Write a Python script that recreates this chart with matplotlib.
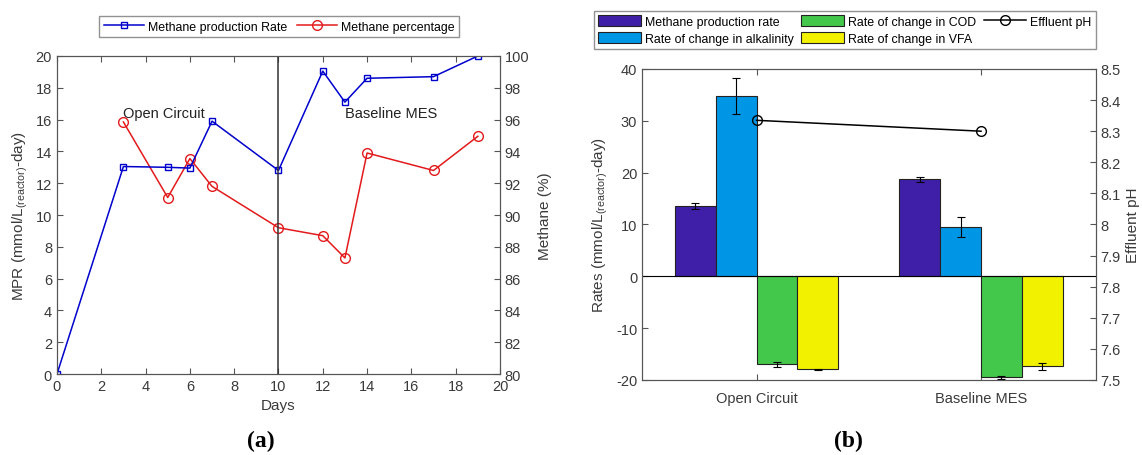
import matplotlib
matplotlib.use('Agg')
import matplotlib.pyplot as plt
import numpy as np

# (a) methane production rate and methane percentage vs days
mpr_days = [0, 3, 5, 6, 7, 10, 12, 13, 14, 17, 19]
mpr_vals = [0, 13.05, 13.0, 12.95, 15.9, 12.8, 19.05, 17.1, 18.6, 18.7, 20.0]
pct_days = [3, 5, 6, 7, 10, 12, 13, 14, 17, 19]
pct_vals = [95.85, 91.1, 93.55, 91.8, 89.2, 88.7, 87.3, 93.9, 92.8, 94.95]

# (b) rates per condition
conditions = ['Open Circuit', 'Baseline MES']
series_names = ['Methane production rate', 'Rate of change in alkalinity',
                'Rate of change in COD', 'Rate of change in VFA']
rates = [[13.55, 18.7],
         [34.85, 9.55],
         [-17.0, -19.5],
         [-17.95, -17.35]]
rate_err = [[0.65, 0.45],
            [3.5, 1.95],
            [0.4, 0.35],
            [0.1, 0.65]]
ph_vals = [8.335, 8.30]

bar_colors = ['#3F1FA8', '#0096E6', '#44C84B', '#F2F200']
axis_col = '#3a3a3a'

plt.rcParams['font.family'] = ['Liberation Sans', 'DejaVu Sans']
plt.rcParams['mathtext.fontset'] = 'custom'
plt.rcParams['mathtext.rm'] = 'Liberation Sans'
plt.rcParams['mathtext.it'] = 'Liberation Sans:italic'
plt.rcParams['axes.unicode_minus'] = False
plt.rcParams['font.size'] = 10

fig = plt.figure(figsize=(11.42, 4.56), dpi=100)


def style_axes(ax):
    for s in ax.spines.values():
        s.set_color('#555555')
        s.set_linewidth(0.8)
    ax.tick_params(direction='in', colors='#555555', labelcolor=axis_col, length=4,
                   labelsize=10.5)


# ---------- panel (a) ----------
ax1 = fig.add_axes([0.0499, 0.1776, 0.3879, 0.6974])
l1, = ax1.plot(mpr_days, mpr_vals, color='#0000CC', marker='s', markersize=5,
               markerfacecolor='none', lw=1.1, label='Methane production Rate')
ax1.axvline(10, color='#333333', lw=1.1)
ax1.set_xlim(0, 20)
ax1.set_ylim(0, 20)
ax1.set_xticks(np.arange(0, 21, 2))
ax1.set_yticks(np.arange(0, 21, 2))
ax1.set_xlabel('Days', color=axis_col, fontsize=11)
ax1.set_ylabel('MPR (mmol/L$_{(\\mathrm{reactor})}$-day)', color=axis_col,
               fontsize=11, labelpad=4)
ax1.text(3, 16.4, 'Open Circuit', va='center', fontsize=10.5, color='#222222')
ax1.text(13, 16.4, 'Baseline MES', va='center', fontsize=10.5, color='#222222')
style_axes(ax1)
ax1.tick_params(top=True, right=False)

ax1r = ax1.twinx()
l2, = ax1r.plot(pct_days, pct_vals, color='#E31A1C', marker='o', markersize=7,
                markerfacecolor='none', lw=1.1, label='Methane percentage')
ax1r.set_ylim(80, 100)
ax1r.set_yticks(np.arange(80, 101, 2))
ax1r.set_ylabel('Methane (%)', color=axis_col, fontsize=11, labelpad=6)
style_axes(ax1r)
ax1r.set_zorder(ax1.get_zorder() - 1)
ax1.patch.set_visible(False)

fig.legend(handles=[l1, l2], loc='center', bbox_to_anchor=(0.2445, 0.939), ncol=2,
           fontsize=8.9, frameon=True, fancybox=False, edgecolor='#777777',
           borderpad=0.35, handlelength=3.3, columnspacing=0.75, handletextpad=0.3)

# ---------- panel (b) ----------
ax2 = fig.add_axes([0.5622, 0.1645, 0.3971, 0.682])
x = np.arange(1, len(conditions) + 1)
w = 0.182
handles = []
for i, (vals, errs) in enumerate(zip(rates, rate_err)):
    off = (i - 1.5) * w
    b = ax2.bar(x + off, vals, width=w, color=bar_colors[i], edgecolor='#222222',
                linewidth=0.8, label=series_names[i], zorder=2)
    ax2.errorbar(x + off, vals, yerr=errs, fmt='none', ecolor='black',
                 elinewidth=0.8, capsize=3, capthick=0.8, zorder=3)
    handles.append(b)
ax2.axhline(0, color='black', lw=0.8, zorder=2.5)
ax2.set_xlim(0.49, 2.51)
ax2.set_ylim(-20, 40)
ax2.set_xticks(x)
ax2.set_xticklabels(conditions)
ax2.set_yticks(np.arange(-20, 41, 10))
ax2.set_ylabel('Rates (mmol/L$_{(\\mathrm{reactor})}$-day)', color=axis_col,
               fontsize=11, labelpad=4)
style_axes(ax2)
ax2.tick_params(top=True, right=False)
ax2.tick_params(axis='x', pad=8)

ax2r = ax2.twinx()
l3, = ax2r.plot(x, ph_vals, color='black', marker='o', markersize=7,
                markerfacecolor='none', lw=1.1, label='Effluent pH')
ax2r.set_ylim(7.5, 8.5)
ph_ticks = np.round(np.arange(7.5, 8.51, 0.1), 1)
ax2r.set_yticks(ph_ticks)
ax2r.set_yticklabels(['%g' % v for v in ph_ticks])
ax2r.set_ylabel('Effluent pH', color=axis_col, fontsize=11, labelpad=4)
style_axes(ax2r)

fig.legend(handles=handles + [l3], loc='center', bbox_to_anchor=(0.740, 0.932), ncol=3,
           fontsize=8.9, frameon=True, fancybox=False, edgecolor='#777777',
           borderpad=0.35, handlelength=3.45, handleheight=0.95, columnspacing=0.6,
           handletextpad=0.33, labelspacing=0.35)

# captions
fig.text(0.2286, 0.032, '(a)', ha='center', va='center', fontsize=17,
         fontweight='bold', family='Liberation Serif')
fig.text(0.743, 0.032, '(b)', ha='center', va='center', fontsize=17,
         fontweight='bold', family='Liberation Serif')

fig.savefig('out.png', dpi=100)
